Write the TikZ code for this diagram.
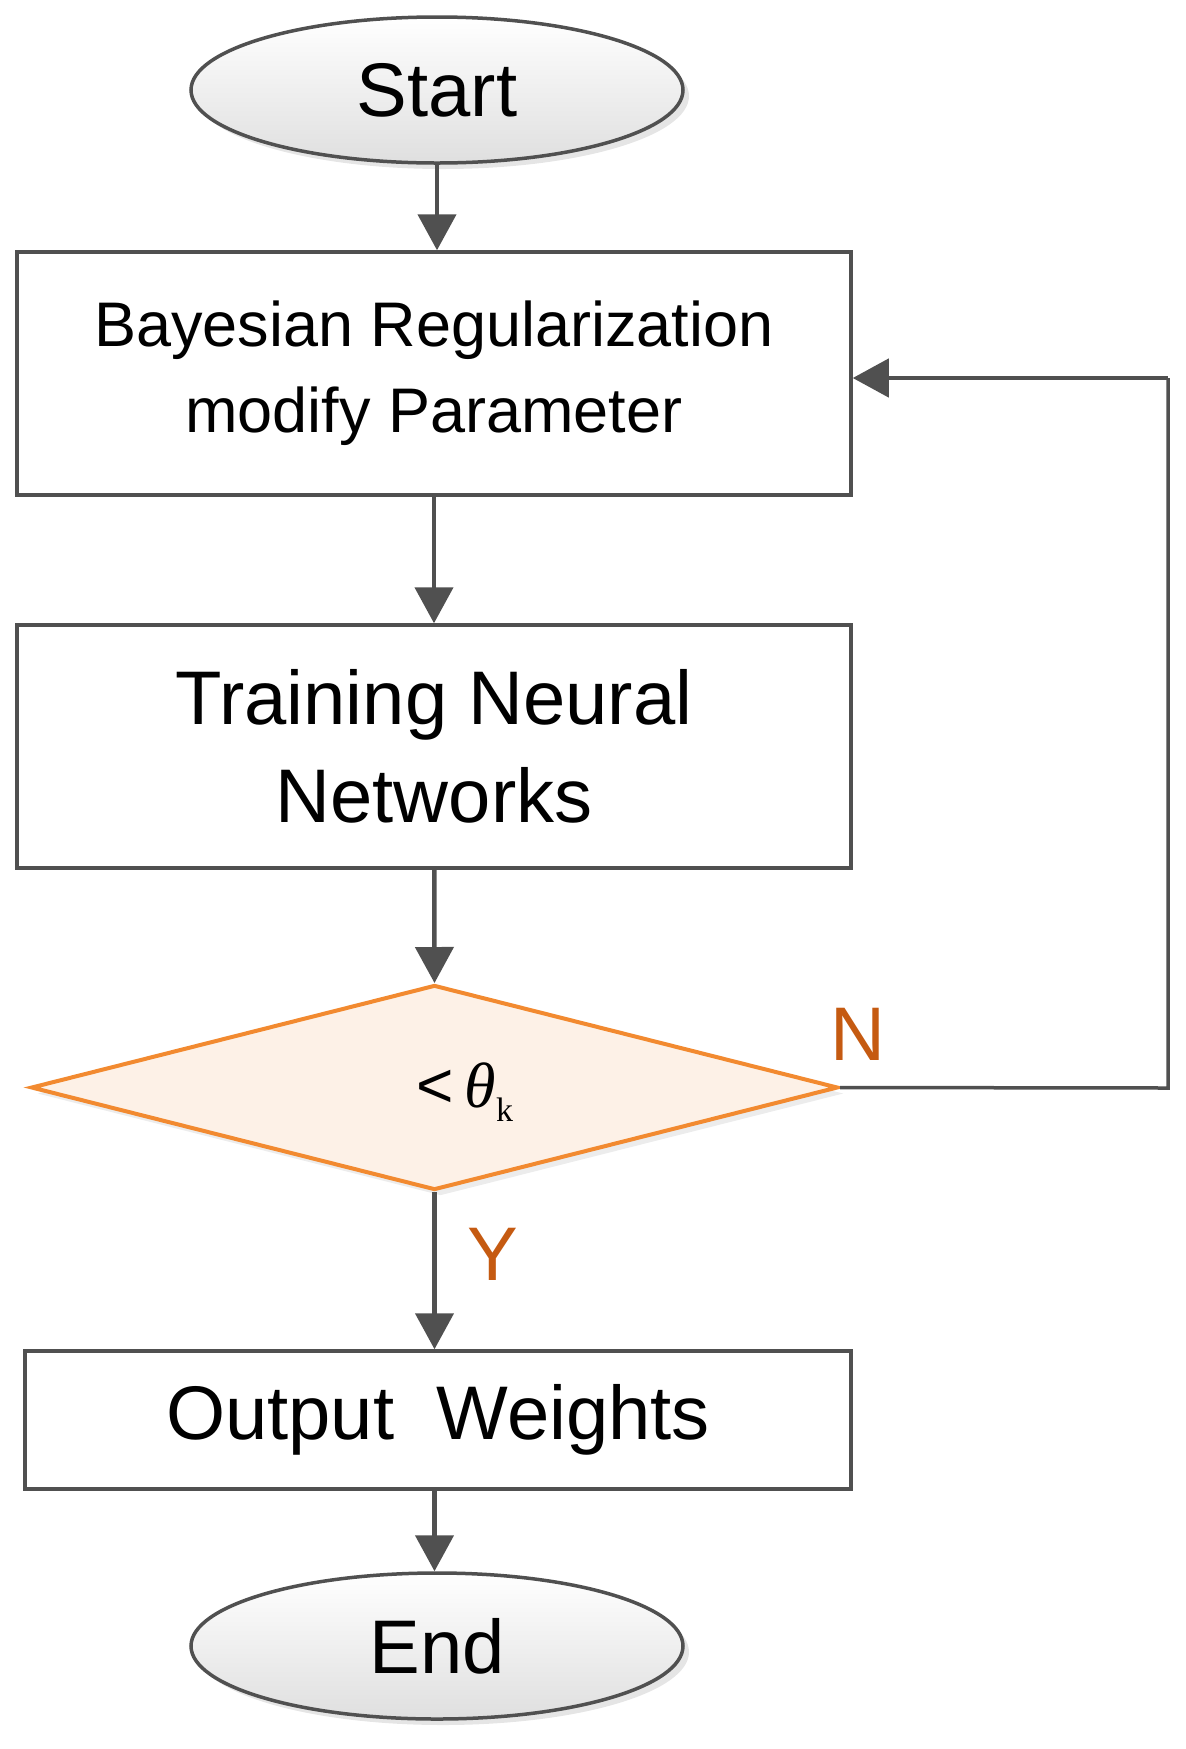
\documentclass[tikz,border=0pt]{standalone}
\usepackage{fontspec}
\setmainfont{Liberation Sans}
\newfontfamily\serifth{Liberation Serif}
\usetikzlibrary{shapes.geometric,arrows.meta,shadows}
\definecolor{ln}{HTML}{505050}
\definecolor{orb}{HTML}{F28A30}
\definecolor{orf}{HTML}{FDF1E7}
\definecolor{ort}{HTML}{C55A11}
\begin{document}
\begin{tikzpicture}[x=1pt,y=-1pt,
  box/.style={draw=ln,line width=3.5pt,fill=white,minimum width=834pt,align=center,inner sep=0pt},
  term/.style={ellipse,draw=ln,line width=3.5pt,top color=white,bottom color=gray!25,minimum width=492pt,minimum height=146pt,font=\fontsize{76}{80}\selectfont,drop shadow={shadow xshift=6pt,shadow yshift=-6pt,fill=gray!40}},
  arr/.style={draw=ln,line width=4.5pt,-{Triangle[length=36pt,width=38pt]}},
  lbl/.style={text=ort,font=\fontsize{76}{78}\selectfont}]
\useasboundingbox (0,0) rectangle (1186,1749);
\node[term] (start) at (437,90) {Start};
\node[box,minimum height=243pt,font=\fontsize{63}{86}\selectfont] (b1) at (434,373.5) {Bayesian Regularization\\modify Parameter};
\node[box,minimum height=243pt,font=\fontsize{76}{98}\selectfont] (b2) at (434,746.5) {Training Neural\\Networks};
\node[diamond,aspect=3.94,draw=orb,line width=4pt,fill=orf,minimum width=807pt,minimum height=205pt,inner sep=0pt,drop shadow={shadow xshift=6pt,shadow yshift=-6pt,fill=gray!30}] (d) at (434.5,1087.5) {};
\node at (465,1092) {\fontsize{64}{66}\selectfont <\,{\serifth\itshape θ}\raisebox{-14pt}{\serifth\fontsize{34}{36}\selectfont k}};
\node[box,minimum width=826pt,minimum height=138pt,font=\fontsize{76}{80}\selectfont] (b3) at (438,1420) {Output\ \ Weights};
\node[term] (end) at (437,1646) {End};
\coordinate (c1) at (1168,1088);
\coordinate (c2) at (1168,378);
\draw[arr] (start.south) -- (start.south|-b1.north);
\draw[arr] (b1) -- (b2);
\draw[arr] (b2) -- (d.north);
\draw[arr] (d.south) -- (d.south|-b3.north);
\draw[arr] (d.south|-b3.south) -- (d.south|-end.north);
\draw[draw=ln,line width=3.5pt] (d.east) -- (c1) -- (c2);
\draw[arr] (c2) -- (b1.east|-c2);
\node[lbl] (N) at (858,1034) {N};
\node[lbl] (Y) at (493,1254) {Y};
\end{tikzpicture}
\end{document}
